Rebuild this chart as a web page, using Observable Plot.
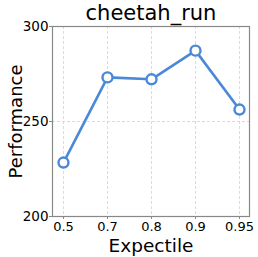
<!DOCTYPE html>
<html>
<head>
<meta charset="utf-8">
<script src="https://cdn.jsdelivr.net/npm/d3@7"></script>
<script src="https://cdn.jsdelivr.net/npm/@observablehq/plot@0.6"></script>
<style>
html,body{margin:0;padding:0;background:#fff;}
svg text{font-family:"DejaVu Sans",sans-serif;}
</style>
</head>
<body>
<div id="chart"></div>
<script>
const expectiles = ["0.5", "0.7", "0.8", "0.9", "0.95"];
const performance = [228.4, 273.2, 272.2, 287.3, 256.3];
const yTicks = [200, 250, 300];
const title = "cheetah_run";

const data = expectiles.map((e, i) => ({e, p: performance[i]}));
const color = "#4a88d8";
const font = "DejaVu Sans, sans-serif";

const chart = Plot.plot({
  width: 258,
  height: 257,
  marginLeft: 52,
  marginRight: 9,
  marginTop: 26,
  marginBottom: 41,
  style: {fontFamily: font, fontSize: "13px", background: "#fff", color: "#000"},
  x: {type: "point", domain: expectiles, padding: 0.2, label: null},
  y: {domain: [200, 300], ticks: yTicks, label: null},
  marks: [
    Plot.gridX(expectiles, {stroke: "#ccc", strokeOpacity: 1, strokeDasharray: "3,2", strokeWidth: 0.7}),
    Plot.gridY(yTicks, {stroke: "#ccc", strokeOpacity: 1, strokeDasharray: "3,2", strokeWidth: 0.7}),
    Plot.frame({stroke: "#888", strokeWidth: 1.2}),
    Plot.axisX({tickSize: 3, tickPadding: 2, fontSize: 13, stroke: "#888", fill: "#000"}),
    Plot.axisY(yTicks, {tickSize: 3, tickPadding: 1, fontSize: 13.5, stroke: "#888", fill: "#000"}),
    Plot.line(data, {x: "e", y: "p", stroke: color, strokeWidth: 2.6}),
    Plot.dot(data, {x: "e", y: "p", r: 5, fill: "#fff", stroke: color, strokeWidth: 2.4}),
    Plot.text([title], {frameAnchor: "top", lineAnchor: "middle", dy: -13, fontSize: 21, fill: "#000", fontFamily: font}),
    Plot.text(["Expectile"], {frameAnchor: "bottom", lineAnchor: "middle", dy: 29.5, fontSize: 18.5, fill: "#000", fontFamily: font}),
    Plot.text(["Performance"], {frameAnchor: "left", textAnchor: "middle", lineAnchor: "middle", dx: -36, rotate: -90, fontSize: 18, fill: "#000", fontFamily: font})
  ]
});
document.getElementById("chart").appendChild(chart);
</script>
</body>
</html>
